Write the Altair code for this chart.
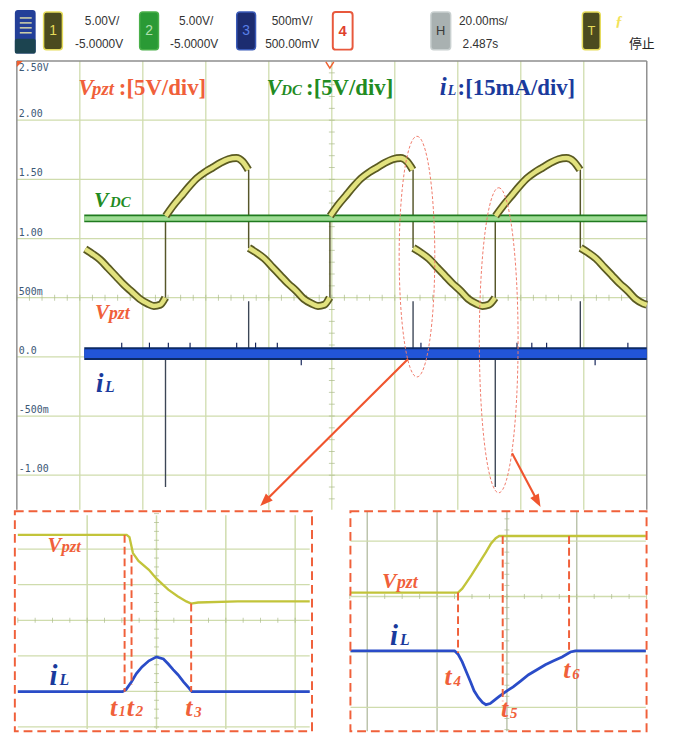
import altair as alt
import pandas as pd

# ============ DATA ============
# Main screen: time in ms (20 ms/div), values in V on the screen's scale
SEG0_T = [21.7, 24.0, 26.5, 29.0, 31.5, 34.0, 36.5, 39.0, 41.5, 43.5, 45.5, 47.1]
SEG0_V = [0.91, 0.87, 0.82, 0.75, 0.68, 0.61, 0.55, 0.49, 0.45, 0.43, 0.44, 0.50]
SEG1_T = [47.3, 49.7, 52.2, 54.7, 57.2, 59.7, 62.2, 64.7, 67.2, 69.7, 71.7, 73.5]
SEG1_V = [1.19, 1.28, 1.36, 1.44, 1.51, 1.56, 1.60, 1.64, 1.67, 1.68, 1.65, 1.58]
SEG2_T = [73.7, 76.1, 78.6, 81.1, 83.6, 86.1, 88.6, 91.1, 93.6, 95.6, 97.6, 99.3]
SEG2_V = [0.92, 0.88, 0.83, 0.76, 0.69, 0.62, 0.56, 0.49, 0.45, 0.43, 0.44, 0.50]
SEG3_T = [99.5, 101.9, 104.4, 106.9, 109.4, 111.9, 114.4, 116.9, 119.4, 121.9, 123.9, 125.7]
SEG3_V = [1.19, 1.28, 1.36, 1.44, 1.51, 1.56, 1.60, 1.64, 1.67, 1.68, 1.65, 1.58]
SEG4_T = [125.9, 128.3, 130.8, 133.3, 135.8, 138.3, 140.8, 143.3, 145.8, 147.8, 149.8, 151.8]
SEG4_V = [0.92, 0.88, 0.83, 0.76, 0.69, 0.62, 0.56, 0.49, 0.45, 0.43, 0.44, 0.50]
SEG5_T = [152.0, 154.5, 157.0, 159.5, 162.0, 164.5, 167.0, 169.5, 172.0, 174.5, 176.8, 178.8]
SEG5_V = [1.19, 1.28, 1.36, 1.44, 1.51, 1.56, 1.60, 1.64, 1.67, 1.68, 1.65, 1.58]
SEG6_T = [179.0, 181.4, 183.9, 186.4, 188.9, 191.4, 193.9, 196.4, 198.9, 200.0]
SEG6_V = [0.92, 0.88, 0.83, 0.76, 0.69, 0.62, 0.56, 0.49, 0.45, 0.44]

VDC_T = [21.4, 200.0]
VDC_V = [1.17, 1.17]
IL_T = [21.4, 200.0]
IL_V = [0.027, 0.027]

JUMP_T = [47.2, 73.6, 99.4, 125.8, 151.9, 178.9]
JUMP_FROM = [0.50, 1.58, 0.50, 1.58, 0.50, 1.58]
JUMP_TO = [1.17, 0.92, 1.17, 0.92, 1.17, 0.92]

SPIKE_T = [47.2, 151.9, 73.6, 125.8, 178.9]
SPIKE_FROM = [0.0, 0.0, 0.06, 0.06, 0.06]
SPIKE_TO = [-1.10, -1.10, 0.47, 0.47, 0.47]

NOISE_T = [33.3, 42.1, 48.1, 55.0, 69.8, 75.8, 82.7, 128.3, 158.8, 163.5, 168.2, 194.0, 90.3, 183.6]
NOISE_TO = [0.12, 0.12, 0.12, 0.12, 0.12, 0.12, 0.12, 0.12, 0.12, 0.12, 0.12, 0.12, -0.07, -0.07]

GRID_T = [20, 40, 60, 80, 100, 120, 140, 160, 180]
GRID_V = [2.0, 1.5, 1.0, 0.5, 0.0, -0.5, -1.0]
YLAB_V = [2.0, 1.5, 1.0, 0.5, 0.0, -0.5, -1.0]
YLAB_T = ["2.00", "1.50", "1.00", "500m", "0.0", "-500m", "-1.00"]

# Zoomed insets: positions in screen divisions
L_VP_X = [0.0, 0.6, 1.17, 1.57, 1.61, 1.66, 1.74, 1.89, 2.0, 2.17, 2.31, 2.43, 2.5, 2.6, 3.17, 3.74, 4.21]
L_VP_Y = [2.40, 2.40, 2.40, 2.40, 2.34, 1.89, 1.67, 1.42, 1.17, 0.86, 0.67, 0.53, 0.47, 0.50, 0.53, 0.53, 0.53]
L_IL_X = [0.0, 0.6, 1.17, 1.51, 1.56, 1.64, 1.71, 1.79, 1.89, 2.0, 2.1, 2.17, 2.24, 2.31, 2.39, 2.46, 2.51, 2.6, 3.46, 4.21]
L_IL_Y = [-2.01, -2.01, -2.01, -2.01, -1.95, -1.73, -1.50, -1.31, -1.14, -1.03, -1.09, -1.23, -1.39, -1.53, -1.73, -1.89, -2.01, -2.01, -2.01, -2.01]
L_MK_X = [1.54, 1.64, 2.5]
L_MK_Y0 = [2.40, 1.84, 0.47]
L_MK_Y1 = [-2.01, -1.81, -2.01]

R_VP_X = [-0.24, 0.43, 0.99, 1.30, 1.36, 1.42, 1.49, 1.56, 1.63, 1.70, 1.77, 1.84, 1.89, 1.99, 2.55, 3.26, 3.99]
R_VP_Y = [0.07, 0.07, 0.07, 0.07, 0.14, 0.25, 0.38, 0.52, 0.66, 0.80, 0.95, 1.05, 1.09, 1.09, 1.09, 1.09, 1.09]
R_IL_X = [-0.24, 0.43, 0.99, 1.25, 1.30, 1.36, 1.42, 1.48, 1.53, 1.59, 1.65, 1.70, 1.76, 1.80, 1.89, 1.99,
          2.09, 2.20, 2.31, 2.43, 2.55, 2.67, 2.79, 2.91, 2.98, 3.55, 3.99]
R_IL_Y = [-0.98, -0.98, -0.98, -0.98, -1.04, -1.18, -1.36, -1.54, -1.70, -1.82, -1.91, -1.95, -1.93, -1.89, -1.80, -1.71,
          -1.63, -1.52, -1.41, -1.32, -1.23, -1.16, -1.09, -1.00, -0.98, -0.98, -0.98]
R_MK_X = [1.30, 1.94, 2.89]
R_MK_Y0 = [0.07, 1.09, 1.09]
R_MK_Y1 = [-1.02, -1.89, -0.98]

# ============ STYLE / LAYOUT ============
SERIF = "Liberation Serif"
SANS = "Liberation Sans"
MONO = "DejaVu Sans Mono"
RED = "#f0603a"
GREEN = "#228b22"
BLUE = "#1a3a9c"
GRID_C = "#cfdcad"
TICK_C = "#a9b98a"
ONE = alt.Data(values=[{"a": 1}])
S = 1.0096            # page-to-picture compensation factor
W = 673
INS_H = 228
LEFT_W = 334
RIGHT_W = W - LEFT_W


def vtext(txt, x, y, size, color, font=SERIF, style="italic", weight="bold", align="left", baseline="alphabetic"):
    return alt.Chart(ONE).mark_text(text=txt, font=font, fontSize=size * S, fontStyle=style, fontWeight=weight,
                                    color=color, align=align, baseline=baseline).encode(
        x=alt.value(x * S), y=alt.value(y * S))


def vrect(x1, x2, y1, y2, fill, stroke=None, sw=1.0, r=3):
    kw = dict(fill=fill, cornerRadius=r)
    if stroke is not None:
        kw.update(stroke=stroke, strokeWidth=sw)
    return alt.Chart(ONE).mark_rect(**kw).encode(x=alt.value(x1 * S), x2=alt.value(x2 * S),
                                                 y=alt.value(y1 * S), y2=alt.value(y2 * S))


def vhline(x1, x2, y, color, sw=1.5):
    return alt.Chart(ONE).mark_rule(color=color, strokeWidth=sw).encode(
        x=alt.value(x1 * S), x2=alt.value(x2 * S), y=alt.value(y * S))


def small(txt, x, y, color="#333333", size=12, weight="normal"):
    return vtext(txt, x, y, size, color, font=SANS, style="normal", weight=weight, align="center", baseline="middle")


# ============ TOOLBAR ============
tb = [
    vrect(15, 36, 3, 47, "#233f98", r=3),
    vrect(15, 36, 32, 47, "#1c4450", r=2),
    vhline(20, 32, 11, "#d8d8a8"), vhline(20, 32, 16, "#d8d8a8"),
    vhline(20, 32, 21, "#d8d8a8"), vhline(20, 32, 26, "#d8d8a8"),
    vrect(44, 63, 5, 43, "#4b4b1f", "#e6dc5a", 1.5),
    small("1", 53.5, 24, "#e6dc5a", 14),
    small("5.00V/", 103, 14), small("-5.0000V", 100, 37),
    vrect(141, 160, 5, 43, "#2a9a35", "#4ab04a", 1.5),
    small("2", 150.5, 24, "#b0e0b0", 14),
    small("5.00V/", 198, 14), small("-5.0000V", 196, 37),
    vrect(239, 258, 5, 43, "#1c2c70", "#3a5ab8", 1.5),
    small("3", 248.5, 24, "#5a80e8", 14),
    small("500mV/", 295, 14), small("500.00mV", 295, 37),
    vrect(336, 356, 5, 43, "white", "#e8583c", 2),
    small("4", 346, 24, "#e0402c", 15, "bold"),
    vrect(435, 455, 5, 43, "#a9b1b1", "#c9d0d0", 1.5),
    small("H", 445, 24, "#3a3a3a", 13),
    small("20.00ms/", 488, 14), small("2.487s", 485, 37),
    vrect(588, 606, 5, 43, "#4b4b1f", "#e6dc5a", 1.5),
    small("T", 597, 24, "#e6dc5a", 13),
    vtext("ƒ", 625, 14, 15, "#f2e25a", font=SERIF, style="italic", weight="bold", align="center", baseline="middle"),
    vtext("停止", 635, 37, 13, "#222222", font="Noto Sans CJK SC", style="normal", weight="normal", baseline="middle"),
]
toolbar = alt.layer(*tb).properties(width=W * S, height=52 * S)

# ============ MAIN SCREEN ============
XM = alt.Scale(domain=[-17 / 3.18, (W - 17) / 3.18], nice=False, zero=False)
YM = alt.Scale(domain=[-1.2918, 2.5167], nice=False, zero=False)


def xm(f):
    return alt.X(f + ":Q", scale=XM, axis=None)


def ym(f):
    return alt.Y(f + ":Q", scale=YM, axis=None)


segs = [(SEG0_T, SEG0_V), (SEG1_T, SEG1_V), (SEG2_T, SEG2_V), (SEG3_T, SEG3_V),
        (SEG4_T, SEG4_V), (SEG5_T, SEG5_V), (SEG6_T, SEG6_V)]
vpzt_df = pd.concat([pd.DataFrame({"t": ts, "v": vs, "seg": i}) for i, (ts, vs) in enumerate(segs)])
vdc_df = pd.DataFrame({"t": VDC_T, "v": VDC_V})
il_df = pd.DataFrame({"t": IL_T, "v": IL_V})
jump_df = pd.DataFrame({"t": JUMP_T, "v0": JUMP_FROM, "v1": JUMP_TO})
spike_df = pd.DataFrame({"t": SPIKE_T, "v0": SPIKE_FROM, "v1": SPIKE_TO})
noise_df = pd.DataFrame({"t": NOISE_T, "v0": 0.03, "v1": NOISE_TO})

gridh = alt.Chart(pd.DataFrame({"v": GRID_V, "t0": 0.0, "t1": 200.0})).mark_rule(
    color=GRID_C, strokeWidth=1.3).encode(y=ym("v"), x=xm("t0"), x2="t1:Q")
gridv = alt.Chart(pd.DataFrame({"t": GRID_T, "v0": -1.2918, "v1": 2.5})).mark_rule(
    color=GRID_C, strokeWidth=1.3).encode(x=xm("t"), y=ym("v0"), y2="v1:Q")
tick_v = alt.Chart(pd.DataFrame({"v": [round(-1.2 + 0.1 * i, 2) for i in range(37)], "t": 100.0})).mark_tick(
    orient="horizontal", size=6, thickness=1, color=TICK_C).encode(x=xm("t"), y=ym("v"))
tick_h = alt.Chart(pd.DataFrame({"t": [4.0 * i for i in range(51)], "v": 0.5})).mark_tick(
    orient="vertical", size=6, thickness=1, color=TICK_C).encode(x=xm("t"), y=ym("v"))
border_v = alt.Chart(pd.DataFrame({"t": [0.0, 200.0], "v0": -1.2918, "v1": 2.5})).mark_rule(
    color="#8e8e8e", strokeWidth=1.5).encode(x=xm("t"), y=ym("v0"), y2="v1:Q")
border_h = alt.Chart(pd.DataFrame({"v": [2.5], "t0": 0.0, "t1": 200.0})).mark_rule(
    color="#8e8e8e", strokeWidth=1.5).encode(y=ym("v"), x=xm("t0"), x2="t1:Q")
ylabels = alt.Chart(pd.DataFrame({"v": YLAB_V, "lab": YLAB_T})).mark_text(
    align="left", baseline="alphabetic", dy=-3 * S, font=MONO, fontSize=10 * S, color="#3c5876").encode(
    x=alt.value(19 * S), y=ym("v"), text="lab:N")

spikes = alt.Chart(spike_df).mark_rule(color="#3c4656", strokeWidth=1.4).encode(x=xm("t"), y=ym("v0"), y2="v1:Q")
noise = alt.Chart(noise_df).mark_rule(color="#14245a", strokeWidth=1.2).encode(x=xm("t"), y=ym("v0"), y2="v1:Q")
il_out = alt.Chart(il_df).mark_line(color="#0c2a66", strokeWidth=13 * S, strokeCap="butt").encode(x=xm("t"), y=ym("v"))
il_in = alt.Chart(il_df).mark_line(color="#2255d8", strokeWidth=9 * S, strokeCap="butt").encode(x=xm("t"), y=ym("v"))
jumps = alt.Chart(jump_df).mark_rule(color="#56562a", strokeWidth=1.5).encode(x=xm("t"), y=ym("v0"), y2="v1:Q")
vdc_out = alt.Chart(vdc_df).mark_line(color="#1f7a1f", strokeWidth=8 * S, strokeCap="butt").encode(x=xm("t"), y=ym("v"))
vdc_in = alt.Chart(vdc_df).mark_line(color="#9edc94", strokeWidth=4.5 * S, strokeCap="butt").encode(x=xm("t"), y=ym("v"))
vp_out = alt.Chart(vpzt_df).mark_line(color="#5a5a22", strokeWidth=8 * S, strokeCap="butt", interpolate="monotone").encode(
    x=xm("t"), y=ym("v"), detail="seg:N")
vp_in = alt.Chart(vpzt_df).mark_line(color="#e2e27e", strokeWidth=4.5 * S, strokeCap="butt", interpolate="monotone").encode(
    x=xm("t"), y=ym("v"), detail="seg:N")

ELL1 = "M 0 -1 C 0.0817 -1 0.148 -0.5523 0.148 0 C 0.148 0.5523 0.0817 1 0 1 C -0.0817 1 -0.148 0.5523 -0.148 0 C -0.148 -0.5523 -0.0817 -1 0 -1 Z"
ELL2 = "M 0 -1 C 0.0699 -1 0.127 -0.5523 0.127 0 C 0.127 0.5523 0.0699 1 0 1 C -0.0699 1 -0.127 0.5523 -0.127 0 C -0.127 -0.5523 -0.0699 -1 0 -1 Z"
ell1 = alt.Chart(pd.DataFrame({"t": [127.04], "v": [0.847]})).mark_point(
    shape=ELL1, size=59049 * S * S, filled=False, color="#f07a6a", strokeWidth=1, strokeDash=[3, 2], opacity=1).encode(
    x=xm("t"), y=ym("v"))
ell2 = alt.Chart(pd.DataFrame({"t": [152.99], "v": [0.140]})).mark_point(
    shape=ELL2, size=94864 * S * S, filled=False, color="#f07a6a", strokeWidth=1, strokeDash=[3, 2], opacity=1).encode(
    x=xm("t"), y=ym("v"))

arrow_df = pd.DataFrame({"t0": [124.2, 157.23], "v0": [-0.019, -0.814], "t1": [78.71, 165.31], "v1": [-1.223, -1.221]})
arrows = alt.Chart(arrow_df).mark_rule(color="#f0552e", strokeWidth=2.2).encode(
    x=xm("t0"), y=ym("v0"), x2="t1:Q", y2="v1:Q")
HEAD = "M 0 -1 L 0.75 1 L -0.75 1 Z"
head1 = alt.Chart(pd.DataFrame({"t": [78.71], "v": [-1.223]})).mark_point(
    shape=HEAD, size=169 * S * S, filled=True, color="#f0552e", opacity=1, angle=225).encode(x=xm("t"), y=ym("v"))
head2 = alt.Chart(pd.DataFrame({"t": [165.31], "v": [-1.221]})).mark_point(
    shape=HEAD, size=169 * S * S, filled=True, color="#f0552e", opacity=1, angle=152).encode(x=xm("t"), y=ym("v"))

corner = alt.Chart(ONE).mark_point(shape="M -1 -1 L 1 -1 L -1 1 Z", size=36 * S * S, filled=True, color="#f06030",
                                   opacity=1).encode(x=alt.value(20 * S), y=alt.value(5 * S))
trig = alt.Chart(ONE).mark_point(shape="M -1 -0.8 L 0 0.8 L 1 -0.8", size=64 * S * S, filled=False, color="#f06030",
                                 strokeWidth=1.5, opacity=1).encode(x=alt.value(333 * S), y=alt.value(6 * S))

main_labels = [
    vtext("2.50V", 19, 12, 10, "#3c5876", font=MONO, style="normal", weight="normal"),
    vtext("V", 79, 36, 23, RED), vtext("pzt", 93, 36, 19, RED),
    vtext(":[5V/div]", 120, 36, 23, RED, style="normal"),
    vtext("V", 269, 36, 23, GREEN), vtext("DC", 284, 36, 15, GREEN),
    vtext(":[5V/div]", 309, 36, 23, GREEN, style="normal"),
    vtext("i", 444, 36, 25, BLUE), vtext("L", 452, 36, 14, BLUE),
    vtext(":[15mA/div]", 462, 36, 23, BLUE, style="normal"),
    vtext("V", 95, 149, 22, GREEN), vtext("DC", 111, 149, 15, GREEN),
    vtext("V", 96, 262, 21, RED), vtext("pzt", 110, 262, 18, RED),
    vtext("i", 97, 336, 27, BLUE), vtext("L", 106, 336, 16, BLUE),
]

main = alt.layer(gridh, gridv, tick_v, tick_h, border_v, border_h, ylabels,
                 spikes, noise, il_out, il_in, jumps, vdc_out, vdc_in, vp_out, vp_in,
                 ell1, ell2, arrows, head1, head2, corner, trig, *main_labels).properties(width=W * S, height=455 * S)

# ============ INSETS ============
XL = alt.Scale(domain=[-18 / 70.0, (LEFT_W - 18) / 70.0], nice=False, zero=False)
YL = alt.Scale(domain=[(618 - 507 - INS_H) / 35.9, (618 - 507) / 35.9], nice=False, zero=False)
XR = alt.Scale(domain=[(LEFT_W - 370) / 70.5, (W - 370) / 70.5], nice=False, zero=False)
YR = alt.Scale(domain=[(594 - 507 - INS_H) / 56.0, (594 - 507) / 56.0], nice=False, zero=False)


def inset(XS, YS, vp_x, vp_y, il_x, il_y, mk_x, mk_y0, mk_y1, box, gx, gy, gx_span, gy_span,
          tick_y, tick_x, vgrid_c, labels, w):
    def xi(f):
        return alt.X(f + ":Q", scale=XS, axis=None)

    def yi(f):
        return alt.Y(f + ":Q", scale=YS, axis=None)

    gv = alt.Chart(pd.DataFrame({"x": gx, "y0": gy_span[0], "y1": gy_span[1]})).mark_rule(
        color=vgrid_c, strokeWidth=1.5).encode(x=xi("x"), y=yi("y0"), y2="y1:Q")
    gh = alt.Chart(pd.DataFrame({"y": gy, "x0": gx_span[0], "x1": gx_span[1]})).mark_rule(
        color=GRID_C, strokeWidth=1.3).encode(y=yi("y"), x=xi("x0"), x2="x1:Q")
    tv = alt.Chart(pd.DataFrame({"y": tick_y, "x": 2.0})).mark_tick(
        orient="horizontal", size=5, thickness=1, color=TICK_C).encode(x=xi("x"), y=yi("y"))
    th = alt.Chart(pd.DataFrame({"x": tick_x, "y": 0.0})).mark_tick(
        orient="vertical", size=5, thickness=1, color=TICK_C).encode(x=xi("x"), y=yi("y"))
    vp = alt.Chart(pd.DataFrame({"x": vp_x, "y": vp_y})).mark_line(
        color="#c2c43a", strokeWidth=2.4).encode(x=xi("x"), y=yi("y"))
    il = alt.Chart(pd.DataFrame({"x": il_x, "y": il_y})).mark_line(
        color="#2a4cc8", strokeWidth=2.8).encode(x=xi("x"), y=yi("y"))
    mk = alt.Chart(pd.DataFrame({"x": mk_x, "y0": mk_y0, "y1": mk_y1})).mark_rule(
        color=RED, strokeWidth=2, strokeDash=[8, 4]).encode(x=xi("x"), y=yi("y0"), y2="y1:Q")
    bx = alt.Chart(pd.DataFrame({"x0": [box[0]], "x1": [box[1]], "y0": [box[2]], "y1": [box[3]]})).mark_rect(
        filled=False, color=RED, strokeWidth=2, strokeDash=[9, 5]).encode(
        x=xi("x0"), x2="x1:Q", y=yi("y0"), y2="y1:Q")
    return alt.layer(gv, gh, tv, th, vp, il, mk, bx, *labels).properties(width=w * S, height=INS_H * S)


left_labels = [
    vtext("V", 48, 42, 21, RED), vtext("pzt", 62, 42, 17, RED),
    vtext("i", 50, 176, 29, BLUE), vtext("L", 60, 176, 16, BLUE),
    vtext("t", 111, 208, 26, RED), vtext("1", 120, 208, 14, RED),
    vtext("t", 128, 208, 26, RED), vtext("2", 137, 208, 15, RED),
    vtext("t", 187, 208, 26, RED), vtext("3", 196, 209, 15, RED),
]
right_labels = [
    vtext("V", 51, 78, 22, RED), vtext("pzt", 66, 78, 18, RED),
    vtext("i", 59, 136, 29, BLUE), vtext("L", 69, 136, 16, BLUE),
    vtext("t", 114, 176, 26, RED), vtext("4", 123, 177, 15, RED),
    vtext("t", 171, 209, 26, RED), vtext("5", 180, 210, 15, RED),
    vtext("t", 234, 169, 26, RED), vtext("6", 243, 170, 15, RED),
]

left = inset(XL, YL, L_VP_X, L_VP_Y, L_IL_X, L_IL_Y, L_MK_X, L_MK_Y0, L_MK_Y1,
             [-0.043, 4.243, 3.064, (618 - 730) / 35.9], [1, 2, 3, 4], [2, 1, 0, -1, -2, -3], [0.0, 4.21],
             [-3.06, 2.95], [-3 + 0.25 * i for i in range(25)], [0.25 * i for i in range(17)], GRID_C, left_labels, LEFT_W)
right = inset(XR, YR, R_VP_X, R_VP_Y, R_IL_X, R_IL_Y, R_MK_X, R_MK_Y0, R_MK_Y1,
              [-0.241, 4.0, 1.536, (594 - 730) / 56.0], [0, 1, 2, 3], [1, 0, -1, -2], [-0.24, 3.99],
              [-2.43, 1.54], [round(-2.4 + 0.2 * i, 2) for i in range(20)], [-0.25 + 0.25 * i for i in range(18)],
              "#bcc4ac", right_labels, RIGHT_W)

chart = alt.vconcat(
    toolbar, main, alt.hconcat(left, right, spacing=0, bounds="flush"),
    spacing=0, bounds="flush"
).properties(padding=0, background="white").configure_view(stroke=None)

chart.save("out.html", embed_options={"renderer": "svg", "actions": False})
